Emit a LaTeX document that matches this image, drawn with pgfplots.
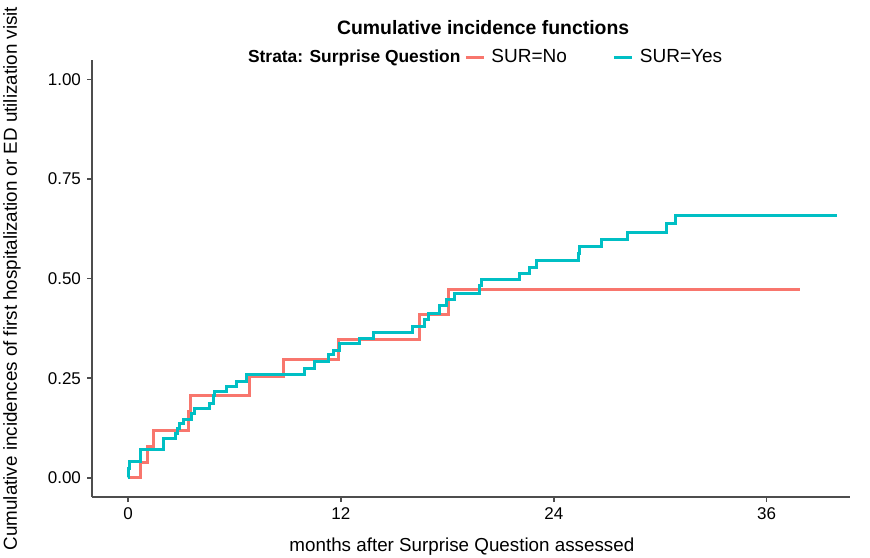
\documentclass[border=0pt]{standalone}
\usepackage{pgfplots}
\pgfplotsset{compat=1.18}
\usepackage{fontspec}
\setmainfont{Liberation Sans}
\definecolor{surno}{HTML}{F8766D}
\definecolor{suryes}{HTML}{00BFC4}
\definecolor{axgray}{HTML}{4D4D4D}

\begin{document}
\fontsize{8.5}{10}\selectfont
\begin{tikzpicture}
\useasboundingbox (-46pt,-30pt) rectangle (389pt,248.5pt);
\begin{axis}[
  scale only axis, width=379pt, height=218.5pt,
  xmin=-2.03, xmax=40.7, ymin=-0.048, ymax=1.049,
  axis x line*=bottom, axis y line*=left,
  axis line style={-, axgray, line width=0.9pt},
  xtick={0,12,24,36}, ytick={0,0.25,0.5,0.75,1},
  tick align=outside, major tick length=2.5pt,
  tick style={axgray, line width=0.8pt},
  yticklabel style={/pgf/number format/.cd, fixed, fixed zerofill, precision=2},
  /pgf/number format/assume math mode=true,
  tick label style={font=\fontsize{8.5}{10}\selectfont, text=black},
  xlabel={months after Surprise Question assessed},
  ylabel={Cumulative incidences of first hospitalization or ED utilization visit},
  label style={font=\fontsize{9.4}{11}\selectfont},
  xlabel style={at={(axis description cs:0.488,-0.113)}, anchor=center},
  ylabel style={at={(axis description cs:-0.1055,0.5)}, anchor=center},
  title={\bfseries Cumulative incidence functions},
  title style={at={(axis description cs:0.516,1.0457)}, anchor=center, font=\fontsize{9.7}{11}\selectfont},
  legend columns=3,
  legend style={draw=none, fill=none, at={(axis description cs:0.516,1.0067)}, anchor=center,
    font=\fontsize{9.5}{11}\selectfont, nodes={inner xsep=1pt},
    /tikz/every odd column/.append style={column sep=2pt},
    /tikz/every even column/.append style={column sep=1pt}},
  legend image code/.code={\draw[#1] (0pt,0pt) -- (9pt,0pt);},
]
\addlegendimage{empty legend}
\addlegendentry{\fontsize{8.7}{11}\selectfont\bfseries Strata: Surprise Question}

\addplot[const plot, surno, line width=1.5pt] coordinates {
(0,0) (0.68,0.0376) (1.09,0.079) (1.43,0.12) (3.4,0.166) (3.55,0.208)
(6.87,0.255) (8.75,0.298) (11.89,0.348) (16.45,0.409) (18.05,0.4735) (37.9,0.4735)
};
\addlegendentry{SUR=No\hspace*{21pt}}

\addplot[const plot, suryes, line width=1.5pt] coordinates {
(0,0) (0.02,0.024) (0.11,0.041) (0.68,0.070) (1.99,0.0995) (2.65,0.112)
(2.78,0.125) (2.93,0.137) (3.12,0.146) (3.59,0.162) (3.77,0.175) (4.62,0.187)
(4.81,0.208) (4.90,0.217) (5.56,0.229) (6.12,0.242) (6.69,0.259) (9.97,0.275)
(10.54,0.292) (11.28,0.309) (11.57,0.321) (11.94,0.338) (13.07,0.350) (13.82,0.366)
(16.04,0.381) (16.73,0.398) (16.92,0.413) (17.58,0.432) (17.95,0.447) (18.42,0.463)
(19.83,0.482) (19.93,0.497) (22.08,0.514) (22.61,0.529) (23.02,0.545) (25.37,0.564)
(25.46,0.580) (26.69,0.598) (28.16,0.617) (30.35,0.638) (30.85,0.658) (39.96,0.658)
};
\addlegendentry{SUR=Yes}
\end{axis}
\end{tikzpicture}
\end{document}
